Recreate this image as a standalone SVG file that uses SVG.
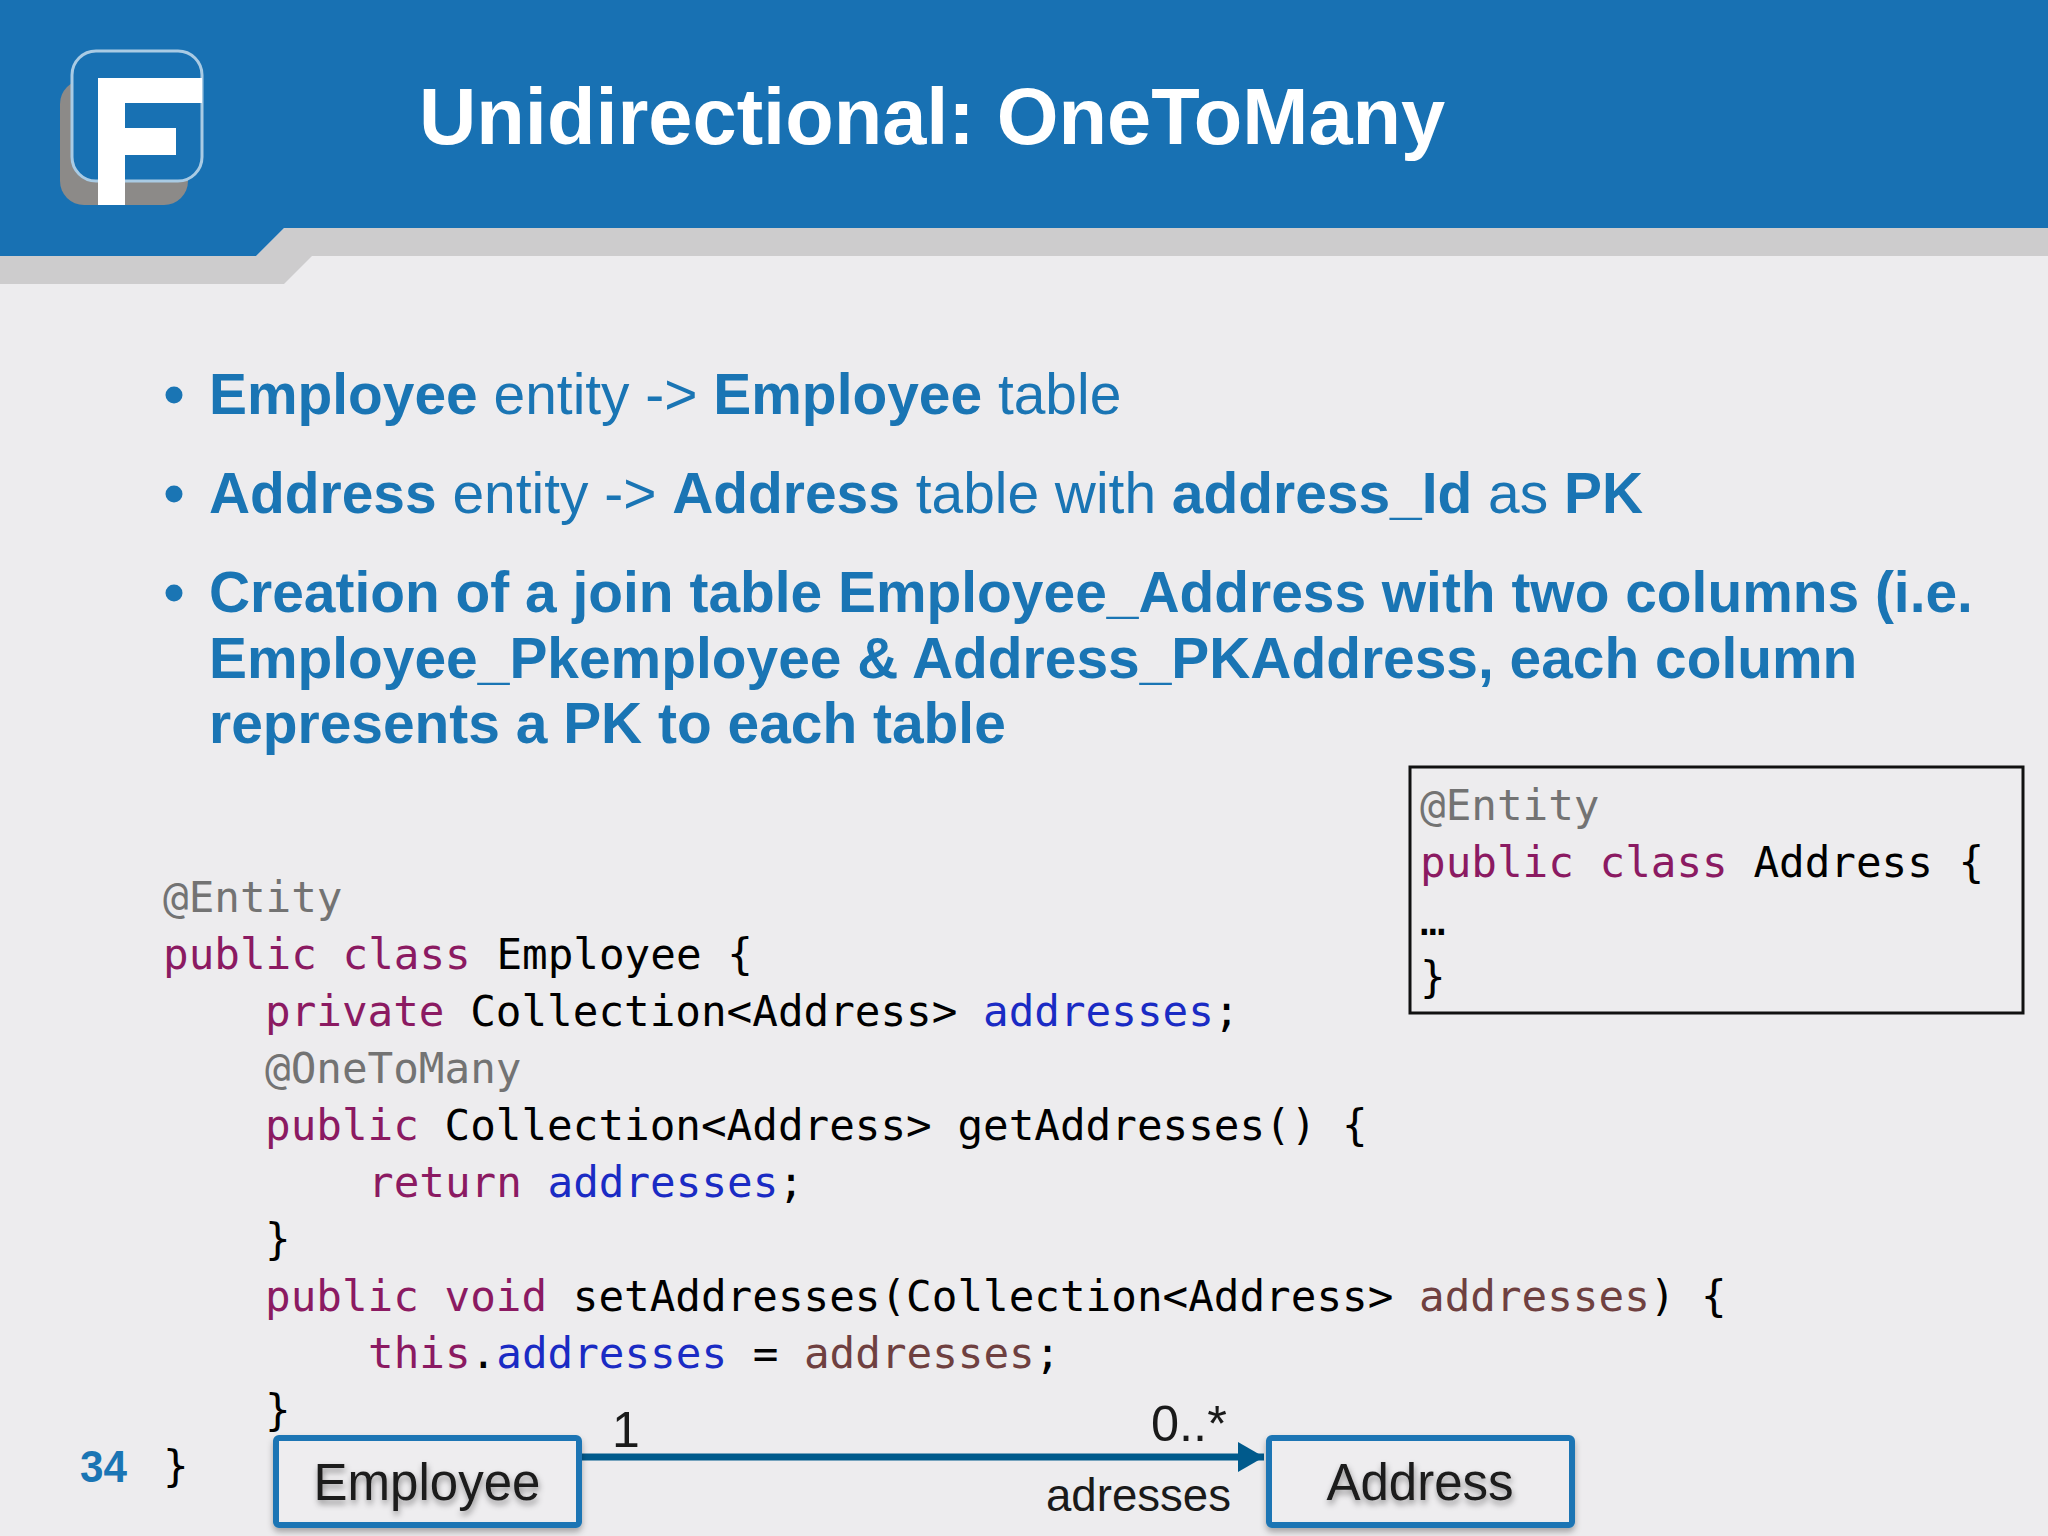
<svg xmlns="http://www.w3.org/2000/svg" width="2048" height="1536" viewBox="0 0 2048 1536">
<defs>
<style>
.b{font-family:"Liberation Sans",Arial,sans-serif;font-size:56.9px;fill:#1a75b4}
.b .s{font-weight:700}
.m{font-family:"DejaVu Sans Mono",monospace;font-size:42.6px;fill:#000;white-space:pre}
.k{fill:#8b1a62}.a{fill:#737373}.f{fill:#1a2bc4}.v{fill:#6f4040}
.u{font-family:"Liberation Sans",Arial,sans-serif;fill:#1a1a1a}
.box{fill:#eeedef;stroke:#1a75b4;stroke-width:6;filter:url(#sh)}
</style>
<filter id="sh" x="-10%" y="-20%" width="120%" height="150%"><feDropShadow dx="0" dy="4" stdDeviation="3" flood-color="#000" flood-opacity=".3"/></filter>
<filter id="ts" x="-10%" y="-20%" width="120%" height="150%"><feDropShadow dx="1" dy="4" stdDeviation="3" flood-color="#000" flood-opacity=".4"/></filter>
<marker id="arrow" markerUnits="userSpaceOnUse" markerWidth="26" markerHeight="30" refX="26" refY="15" orient="auto"><path d="M0 0L26 15L0 30Z" fill="#005a8c"/></marker>
</defs>
<rect width="2048" height="1536" fill="#edecee"/>
<path d="M0 256H256L284 228H2048V256H312L284 284H0Z" fill="#cdcccd"/>
<path d="M0 0H2048V228H284L256 256H0Z" fill="#1871b3"/>
<g id="logo">
<rect x="60" y="80" width="128" height="125" rx="24" fill="#8c8a88"/>
<rect x="72" y="51" width="130" height="130" rx="24" fill="#1871b3" stroke="#a9cbe4" stroke-width="3"/>
<path d="M98 78H202V103H125V128H176V155H125V205H98Z" fill="#fff"/>
</g>
<text id="title" x="419" y="144" font-family="Liberation Sans,Arial,sans-serif" font-weight="700" font-size="79.4" fill="#fff">Unidirectional: OneToMany</text>
<g id="bullets" class="b">
<circle cx="174" cy="395" r="8.5" fill="#1a75b4"/>
<text x="209" y="414"><tspan class="s">Employee</tspan> entity -&gt; <tspan class="s">Employee</tspan> table</text>
<circle cx="174" cy="494" r="8.5" fill="#1a75b4"/>
<text x="209" y="513"><tspan class="s">Address</tspan> entity -&gt; <tspan class="s">Address</tspan> table with <tspan class="s">address_Id</tspan> as <tspan class="s">PK</tspan></text>
<circle cx="174" cy="593" r="8.5" fill="#1a75b4"/>
<text x="209" y="612" class="s">Creation of a join table Employee_Address with two columns (i.e.</text>
<text x="209" y="678" class="s">Employee_Pkemployee &amp; Address_PKAddress, each column</text>
<text x="209" y="743" class="s">represents a PK to each table</text>
</g>
<g id="code" class="m">
<text x="163" y="912" class="a">@Entity</text>
<text x="163" y="969"><tspan class="k">public class</tspan> Employee {</text>
<text x="265" y="1026"><tspan class="k">private</tspan> Collection&lt;Address&gt; <tspan class="f">addresses</tspan>;</text>
<text x="265" y="1083" class="a">@OneToMany</text>
<text x="265" y="1140"><tspan class="k">public</tspan> Collection&lt;Address&gt; getAddresses() {</text>
<text x="368" y="1197"><tspan class="k">return</tspan> <tspan class="f">addresses</tspan>;</text>
<text x="265" y="1254">}</text>
<text x="265" y="1311"><tspan class="k">public void</tspan> setAddresses(Collection&lt;Address&gt; <tspan class="v">addresses</tspan>) {</text>
<text x="368" y="1368"><tspan class="k">this</tspan>.<tspan class="f">addresses</tspan> = <tspan class="v">addresses</tspan>;</text>
<text x="265" y="1425">}</text>
<text x="163" y="1481">}</text>
</g>
<g id="address-code">
<rect x="1410" y="767" width="613" height="246" fill="none" stroke="#111" stroke-width="3"/>
<g class="m">
<text x="1420" y="820" class="a">@Entity</text>
<text x="1420" y="877"><tspan class="k">public class</tspan> Address {</text>
<text x="1420" y="935">…</text>
<text x="1420" y="992">}</text>
</g>
</g>
<text id="page" x="80" y="1482" font-family="Liberation Sans,Arial,sans-serif" font-weight="700" font-size="44" fill="#1a75b4" textLength="47" lengthAdjust="spacingAndGlyphs">34</text>
<g id="connectors">
<line x1="582" y1="1457" x2="1264" y2="1457" stroke="#005a8c" stroke-width="7" marker-end="url(#arrow)"/>
</g>
<g id="employee">
<rect class="box" x="276" y="1438" width="303" height="87" rx="3"/>
<text class="u" x="427" y="1500" font-size="51" text-anchor="middle" filter="url(#ts)">Employee</text>
</g>
<g id="address">
<rect class="box" x="1269" y="1438" width="303" height="87" rx="3"/>
<text class="u" x="1420" y="1500" font-size="51" text-anchor="middle" filter="url(#ts)">Address</text>
</g>
<g id="labels" class="u" font-size="50">
<text x="612" y="1447" font-size="50">1</text>
<text x="1151" y="1441" font-size="50.5">0..*</text>
<text x="1046" y="1511" font-size="45.6">adresses</text>
</g>
</svg>
